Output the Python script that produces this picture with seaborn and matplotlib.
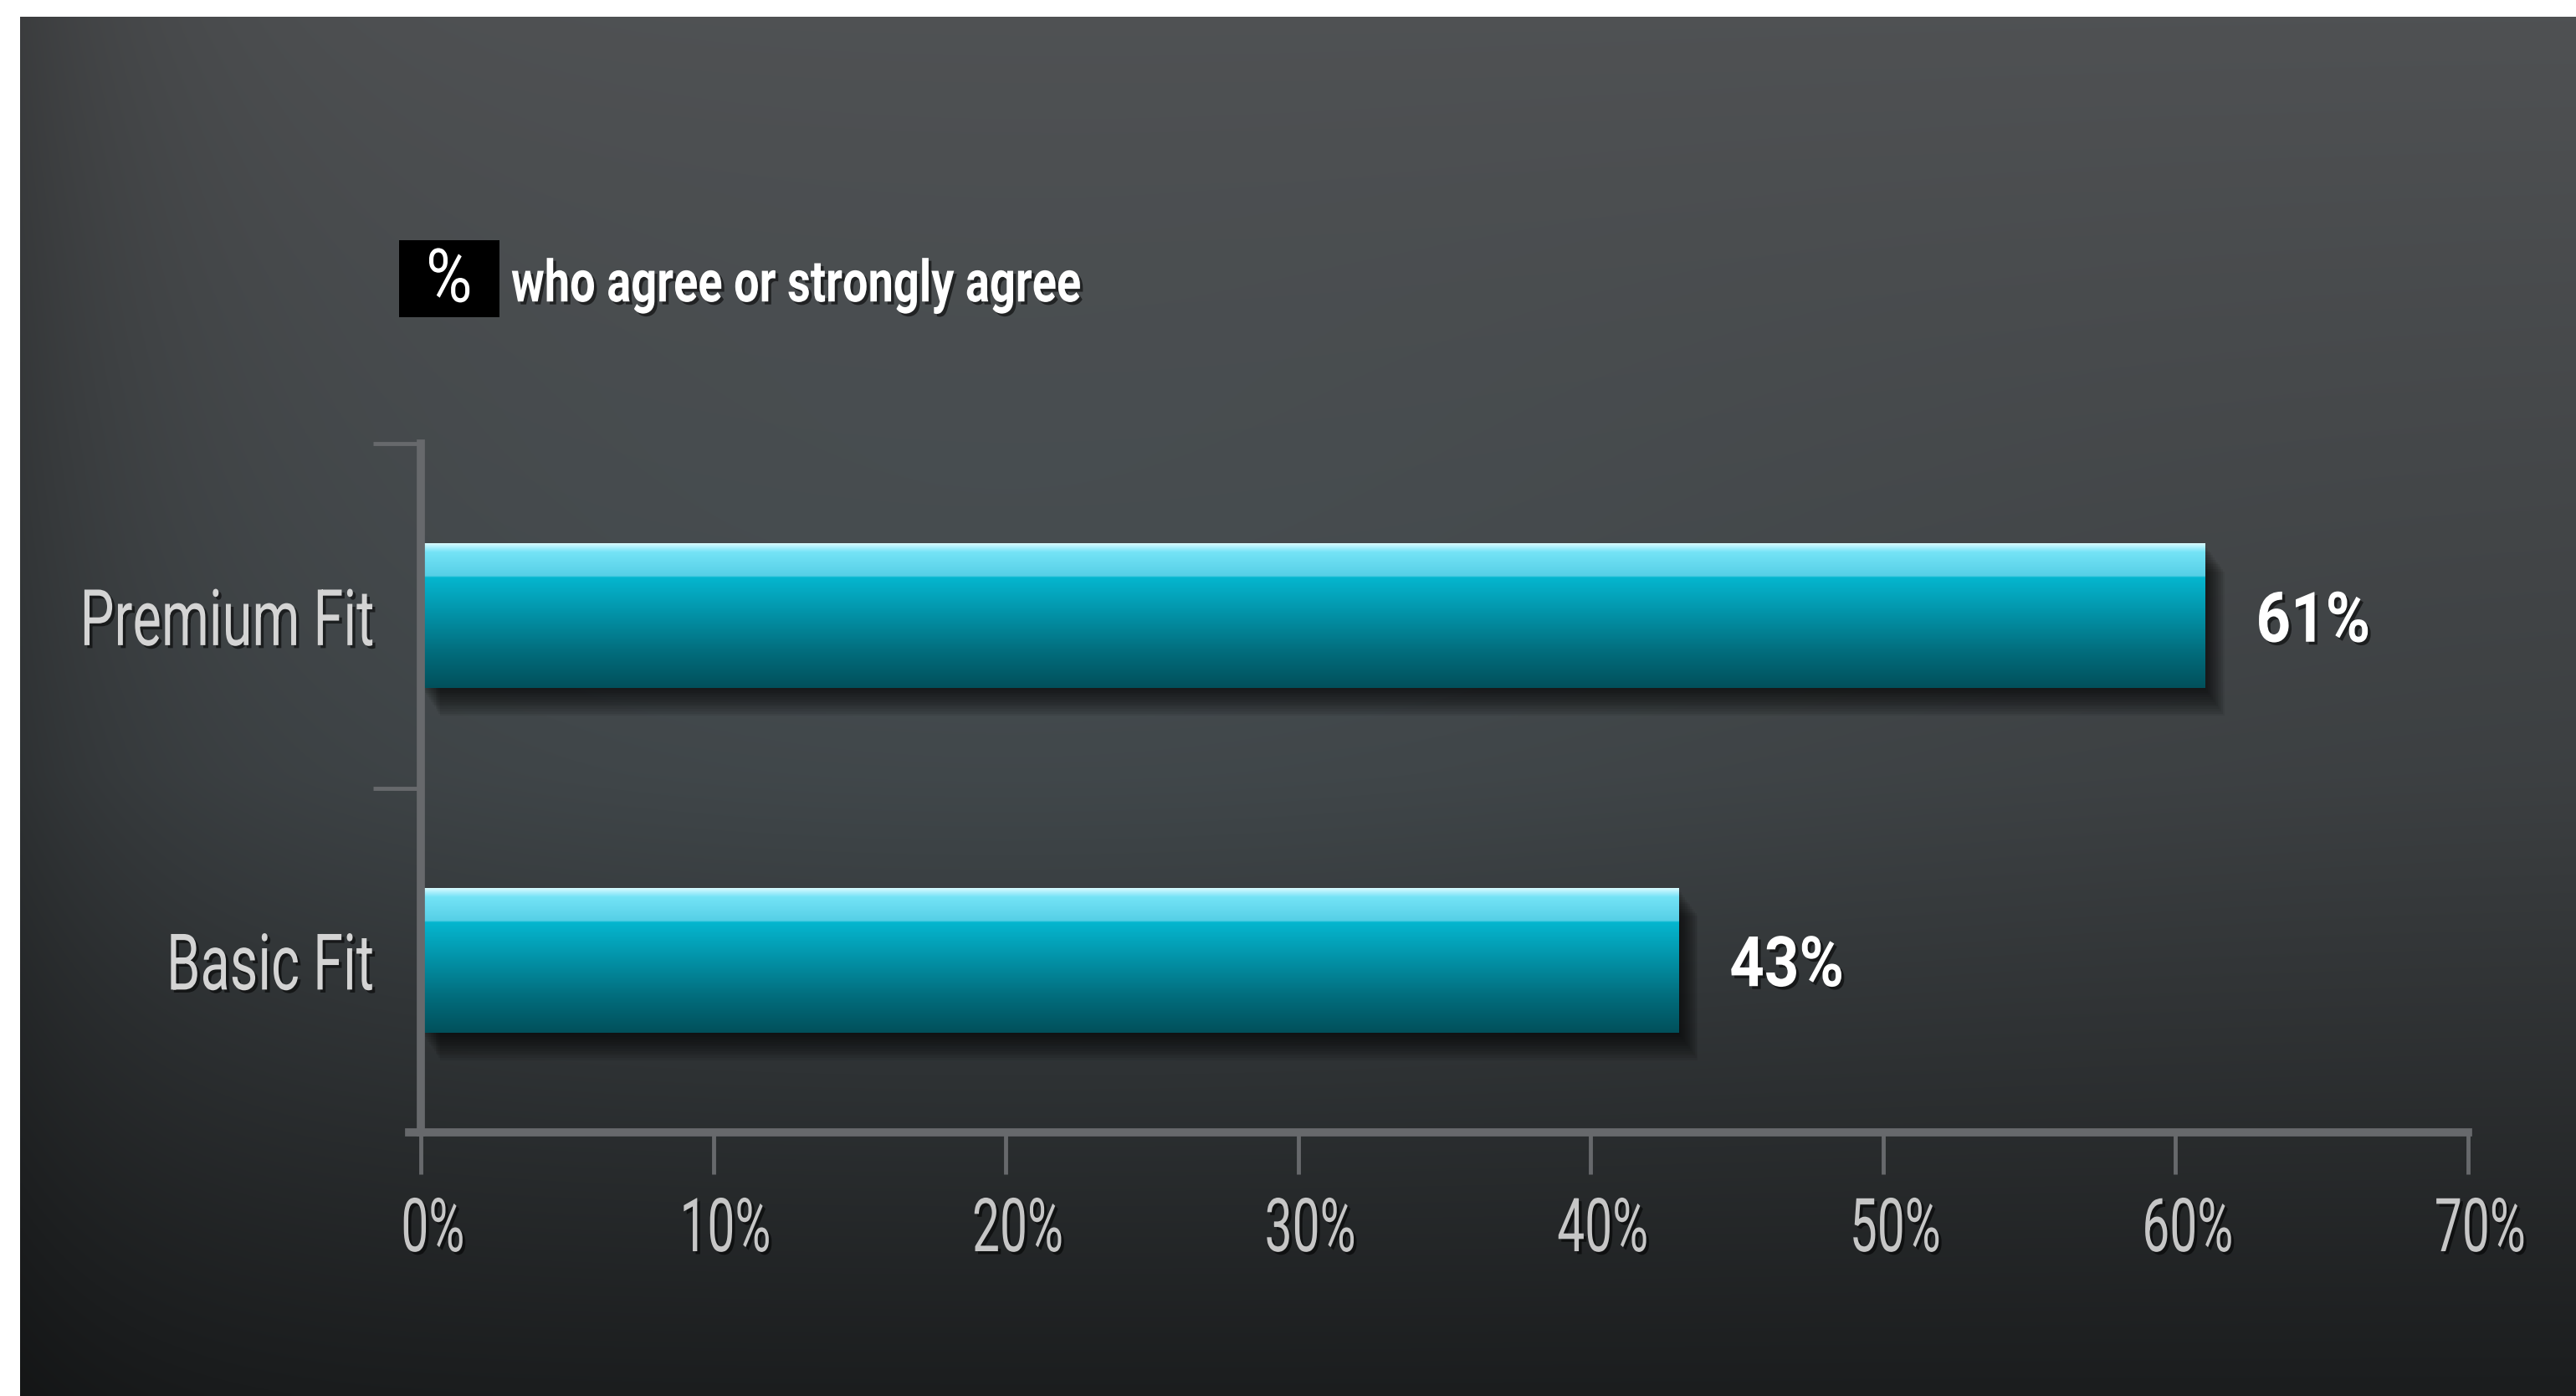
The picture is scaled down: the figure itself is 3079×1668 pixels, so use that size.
import numpy as np
import pandas as pd
import seaborn as sns
import matplotlib
matplotlib.use("Agg")
import matplotlib.pyplot as plt
import matplotlib.patheffects as pe
from matplotlib.colors import to_rgb
from matplotlib.patches import Rectangle
from matplotlib.transforms import Affine2D, ScaledTranslation

# ---- data -------------------------------------------------------------
categories = ["Premium Fit", "Basic Fit"]
agree_pct = [61, 43]
x_ticks = [0, 10, 20, 30, 40, 50, 60, 70]
x_tick_labels = ["0%", "10%", "20%", "30%", "40%", "50%", "60%", "70%"]
legend_symbol = "%"
legend_text = "who agree or strongly agree"

# ---- fonts ------------------------------------------------------------
sns.set_style("white")
plt.rcParams["font.family"] = ["Roboto", "DejaVu Sans"]


class Condensed(pe.AbstractPathEffect):
    """Reshape glyph outlines (narrower, optionally taller) to imitate a
    condensed face, then hand the path on to the wrapped effects."""

    def __init__(self, sx, anchor="left", sy=1.0, shadow=True):
        super().__init__()
        self.sx = sx
        self.sy = sy
        self.anchor = anchor
        self.effects = []
        if shadow:
            self.effects.append(pe.SimplePatchShadow(offset=(2.5, -2.5),
                                                     shadow_rgbFace="black", alpha=0.55))
        self.effects.append(pe.Normal())

    def draw_path(self, renderer, gc, tpath, affine, rgbFace=None):
        v = tpath.vertices
        xmax = float(v[:, 0].max()) if len(v) else 0.0
        ymid = float(v[:, 1].max()) / 2.0 if len(v) else 0.0
        px = {"left": 0.0, "center": xmax / 2.0, "right": xmax}[self.anchor]
        reshape = (Affine2D().translate(-px, -ymid)
                   .scale(self.sx, self.sy).translate(px, ymid))
        for eff in self.effects:
            eff.draw_path(renderer, gc, tpath, reshape + affine, rgbFace)


W, H, DPI = 3079, 1668, 100
fig = plt.figure(figsize=(W / DPI, H / DPI), dpi=DPI, facecolor="white")

# ---- dark gradient backdrop ------------------------------------------
bg = fig.add_axes([24 / W, 0, 1 - 24 / W, 1 - 20 / H], zorder=-10)
bg.set_axis_off()
ny, nx = 300, 600
yy, xx = np.mgrid[0:1:ny * 1j, 0:1:nx * 1j]          # yy = 0 at top
top = np.array(to_rgb("#4f5153"))
mid = np.array(to_rgb("#3c3f41"))
bot = np.array(to_rgb("#1b1d1e"))
t = yy[..., None]
base = np.where(t < 0.55,
                top + (mid - top) * (t / 0.55),
                mid + (bot - mid) * ((t - 0.55) / 0.45))
# soft bluish glow around the plotting area
glow = np.exp(-(((xx - 0.38) / 0.38) ** 2 + ((yy - 0.48) / 0.30) ** 2))[..., None]
base = base + glow * np.array([0.020, 0.035, 0.040])
# darker left edge
base = base * (1 - 0.25 * np.exp(-xx / 0.06))[..., None]
base = np.clip(base, 0, 1)
bg.imshow(base, extent=[0, 1, 0, 1], aspect="auto", interpolation="bilinear", origin="upper")
bg.set_xlim(0, 1)
bg.set_ylim(0, 1)

# ---- main axes --------------------------------------------------------
x0_px, x70_px, ytop_px, ybot_px = 503, 2950, 530, 1353
ax = fig.add_axes([x0_px / W, 1 - ybot_px / H, (x70_px - x0_px) / W, (ybot_px - ytop_px) / H])
ax.patch.set_alpha(0)

df = pd.DataFrame({"category": categories, "pct": agree_pct})
sns.barplot(data=df, x="pct", y="category", orient="h", width=0.42,
            color="#05a9c2", saturation=1, ax=ax, zorder=3)

ax.set_xlim(0, 70)
ax.set_ylim(1.5, -0.5)

# glossy vertical gradient for each bar, clipped to the bar shape
stops = [(0.00, "#d8fbff"), (0.03, "#a6eefc"), (0.06, "#74e3f6"), (0.225, "#56cfe6"),
         (0.235, "#05b6cf"), (0.45, "#0398ae"), (0.75, "#026d7d"), (1.00, "#01505b")]
n = 256
fr = np.linspace(0, 1, n)
grad = np.zeros((n, 1, 3))
for c in range(3):
    grad[:, 0, c] = np.interp(fr, [s for s, _ in stops], [to_rgb(col)[c] for _, col in stops])

shadow_fx = [pe.SimplePatchShadow(offset=(o * 0.7, -o), shadow_rgbFace="black", alpha=0.07)
             for o in range(2, 26, 2)]
for patch in list(ax.patches):
    bx, by, bw, bh = patch.get_x(), patch.get_y(), patch.get_width(), patch.get_height()
    patch.set_path_effects(shadow_fx + [pe.Normal()])
    patch.set_edgecolor("none")
    img = ax.imshow(grad, extent=[bx, bx + bw, by + bh, by], aspect="auto",
                    interpolation="bilinear", zorder=4)
    img.set_clip_path(patch)

ax.set_xlim(0, 70)
ax.set_ylim(1.5, -0.5)
ax.set_aspect("auto")

# value labels
for cont in ax.containers:
    texts = ax.bar_label(cont, labels=[f"{v}%" for v in agree_pct], padding=44,
                         color="white", fontsize=60, fontweight="bold", zorder=6)
    for txt in texts:
        txt.set_va("center_baseline")
        txt.set_path_effects([Condensed(0.87, "left")])

# ---- axes styling -----------------------------------------------------
axis_col = "#67696c"
for side in ["top", "right"]:
    ax.spines[side].set_visible(False)
ax.spines["left"].set_color(axis_col)
ax.spines["left"].set_linewidth(7)
ax.spines["bottom"].set_color(axis_col)
ax.spines["bottom"].set_linewidth(7)
ax.spines["bottom"].set_bounds(-0.4, 70)
ax.spines["left"].set_zorder(5)

ax.set_xticks(x_ticks)
ax.set_xticklabels(x_tick_labels)
ax.tick_params(axis="x", direction="out", length=36, width=3.5, color=axis_col,
               pad=18, labelsize=64, labelcolor="#c6c6c6", bottom=True)
offset = ScaledTranslation(0.15, 0, fig.dpi_scale_trans)
for lab in ax.get_xticklabels():
    lab.set_transform(lab.get_transform() + offset)
    lab.set_path_effects([Condensed(0.66, "center")])

# category boundaries carry the ticks, category centres carry the labels
ax.set_yticks([-0.5, 0.5])
ax.set_yticklabels(["", ""])
ax.set_yticks([0, 1], minor=True)
ax.set_yticklabels(categories, minor=True)
ax.tick_params(axis="y", which="major", direction="out", length=41, width=3.5,
               color=axis_col, left=True)
ax.tick_params(axis="y", which="minor", length=0, pad=40, labelsize=57,
               labelcolor="#d4d4d4", left=True)
for lab in ax.get_yticklabels(minor=True):
    lab.set_path_effects([Condensed(0.82, "right", sy=1.18)])
ax.set_xlabel("")
ax.set_ylabel("")

# ---- legend key -------------------------------------------------------
fig.patches.append(Rectangle((477 / W, 1 - 379 / H), 120 / W, 92 / H,
                             transform=fig.transFigure, facecolor="black",
                             edgecolor="none", zorder=5))
fig.text(537 / W, 1 - 336 / H, legend_symbol, color="white", fontsize=64,
         ha="center", va="center", zorder=6,
         path_effects=[Condensed(0.85, "center", shadow=False)])
fig.text(611 / W, 1 - 342 / H, legend_text, color="white", fontsize=50,
         fontweight="bold", ha="left", va="center", zorder=6,
         path_effects=[Condensed(0.78, "left")])

fig.savefig("out.png", dpi=DPI, facecolor=fig.get_facecolor())
